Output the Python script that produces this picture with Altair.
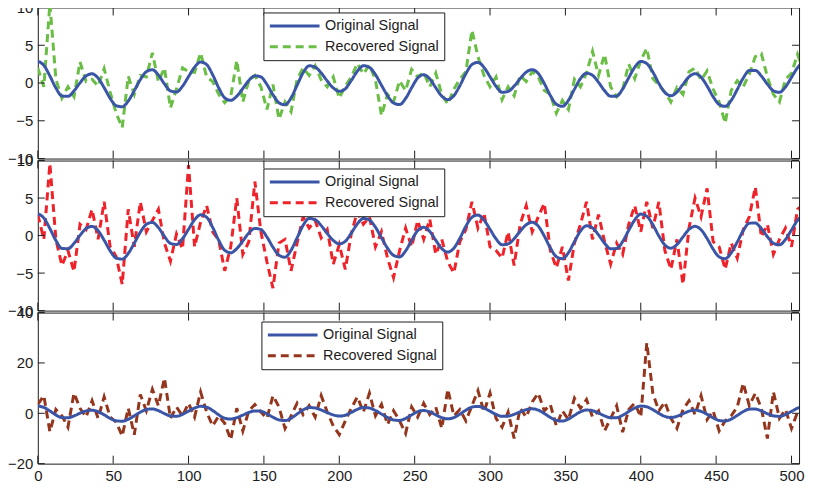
import altair as alt
import pandas as pd

# sample positions (every 4th sample, plus the right end)
T = list(range(0, 509, 4)) + [510]

ORIG = [2.9, 2.34, 0.94, -0.66, -1.71, -1.75, -1.04, 0.03, 0.94, 1.22,
        0.65, -0.61, -2.03, -3.0, -3.14, -2.38, -1.01, 0.45, 1.5, 1.75,
        1.06, -0.11, -1.04, -1.18, -0.42, 0.85, 2.1, 2.77, 2.44, 1.1,
        -0.63, -1.96, -2.29, -1.74, -0.72, 0.34, 0.95, 0.81, -0.19, -1.55,
        -2.62, -2.88, -1.96, -0.3, 1.36, 2.28, 2.11, 1.33, 0.28, -0.65,
        -1.1, -0.76, 0.35, 1.57, 2.29, 2.07, 1.11, -0.29, -1.68, -2.64,
        -2.85, -2.04, -0.63, 0.66, 1.1, 0.55, -0.62, -1.74, -2.2, -1.68,
        -0.35, 1.25, 2.45, 2.73, 2.06, 0.83, -0.44, -1.22, -1.11, -0.41,
        0.58, 1.44, 1.77, 1.26, -0.06, -1.64, -2.81, -3.08, -2.29, -0.81,
        0.6, 1.3, 1.02, 0.09, -1.02, -1.75, -1.73, -0.79, 0.7, 2.09,
        2.86, 2.57, 1.46, -0.05, -1.25, -1.68, -1.2, -0.17, 0.82, 1.23,
        0.78, -0.39, -1.8, -2.84, -3.08, -2.3, -0.86, 0.67, 1.65, 1.67,
        0.93, -0.15, -1.02, -1.23, -0.52, 0.75, 2.02, 2.73, 2.75]

GREEN = [2.0, -0.5, 10.5, 0.5, -2.0, -0.5, -1.8, 2.8, 0.2, 0.5,
         -0.4, 1.9, -1.2, -4.0, -5.9, 0.9, -1.5, 1.0, 0.8, 4.0,
         0.2, 2.0, -3.3, -0.8, 2.0, 1.5, 1.4, 4.0, 0.8, 0.2,
         -1.5, -2.6, -1.8, 3.0, -2.5, 0.3, 1.0, -0.5, -3.5, -0.2,
         -4.8, -2.5, -3.8, 0.5, 2.0, 1.0, 2.3, 0.4, -0.5, 0.8,
         -2.0, -0.4, 0.8, 2.6, 1.2, 2.4, 0.4, -4.3, -1.5, -2.5,
         0.3, -1.0, 1.8, 0.8, 1.4, -0.5, 1.3, -1.5, -2.8, -0.8,
         0.5, 1.5, 7.0, 3.5, 1.0, -0.5, 0.8, -2.2, -0.5, -1.7,
         1.0, 0.2, 1.5, 0.8, -1.0, -1.5, -4.0, -2.3, -3.5, 0.5,
         -0.5, 1.3, 4.2, 1.0, 3.8, -0.5, -1.8, -0.8, 2.5, 0.6,
         3.0, 4.6, 0.6, -0.3, -1.2, -2.5, -0.6, -1.5, 1.5, 2.0,
         0.4, 1.6, -0.8, -2.5, -5.3, -1.0, 0.3, -0.5, 1.2, 3.5,
         3.9, 0.8, -1.5, -2.5, 0.5, 1.3, 3.8, 1.6, 2.5]

RED = [2.8, -0.5, 9.6, -0.5, -4.0, -2.0, -4.8, 1.5, 0.8, 3.5,
       -0.5, 4.5, -1.5, -2.8, -6.5, 3.5, -1.5, 4.5, 0.5, 2.0,
       3.5, -1.0, -3.4, 0.2, -1.8, 9.4, -1.5, 1.8, 4.0, 0.5,
       -0.6, -4.7, -1.5, 5.0, -2.5, -0.8, 7.2, 0.5, -3.5, -7.0,
       -1.0, -0.5, -4.7, -1.0, 2.5, 1.0, 2.0, -0.3, 0.8, -3.8,
       -1.2, -4.5, 0.3, 3.2, 1.5, 2.5, -1.5, 0.5, -3.0, -5.6,
       -2.0, 1.0, -1.5, 2.0, -0.5, 2.2, -2.5, -0.5, -3.5, -5.0,
       -0.8, 0.8, 4.5, 1.0, 3.0, -1.5, -2.0, -3.0, 0.5, -4.0,
       1.5, 4.0, 0.5, 2.5, 4.3, -2.0, -4.3, -1.5, -6.0, -1.0,
       1.5, 4.5, -0.5, 2.8, -0.8, -3.8, -1.0, -2.5, 1.5, 4.0,
       0.5, 4.5, 1.0, 4.5, -2.0, -4.5, -0.5, -6.5, 1.0, 5.0,
       2.5, 6.3, -0.8, -1.5, -4.5, -1.0, -3.0, 0.8, 2.5, 6.5,
       -0.2, 1.5, -2.5, -0.5, 1.0, -1.5, 3.5, 4.2, 2.0]

BROWN = [3.5, 7.0, -7.3, 1.5, -1.0, -5.5, 8.0, 2.0, -1.5, 5.0,
         -2.0, 6.5, -1.5, -3.5, -9.0, 2.0, -8.5, 7.5, 1.0, 9.5,
         3.0, 14.0, -2.0, 2.5, -1.0, 4.0, -1.5, 8.5, 0.5, -5.0,
         -1.0, -4.0, -10.5, 2.0, -7.0, 1.0, 3.5, 0.5, -2.0, 7.0,
         2.5, -6.0, -1.0, 4.0, -0.5, 3.0, -1.5, 7.0, 0.5, -5.0,
         -8.5, -3.0, 2.0, 6.5, 0.5, 8.0, -1.0, 3.5, -4.5, 1.0,
         -3.0, -8.0, 2.5, -1.5, 4.0, -0.5, 2.5, -6.0, 9.6, -1.0,
         1.5, -3.0, 3.0, 9.0, 0.5, 8.0, -2.0, -5.5, 0.5, -10.0,
         2.0, -1.5, 4.5, 8.0, 1.0, 3.5, -5.0, 1.0, -2.5, 6.0,
         2.0, 5.5, -1.5, 1.0, -7.0, -2.0, 3.0, -7.5, 1.5, 4.0,
         -1.5, 28.0, 8.0, 1.0, 4.5, -2.0, -6.0, 1.5, 5.0, -0.5,
         7.0, -2.5, 1.0, -7.0, -3.0, -1.0, 2.5, 12.0, 3.0, 8.0,
         2.0, -10.0, 8.5, -2.0, 1.5, -6.0, 0.5, 3.0, 1.0]

X_TICKS = [0, 50, 100, 150, 200, 250, 300, 350, 400, 450, 500]
Y_TICKS_SMALL = [-10, -5, 0, 5, 10]
Y_TICKS_BIG = [-20, 0, 20, 40]
SERIES = ["Original Signal", "Recovered Signal"]

BLUE = "#3a55a5"
GREEN_C = "#6abd45"
RED_C = "#ee2229"
BROWN_C = "#94361d"
INK = "#1c1c1c"
FONT = "Liberation Sans"
W = 766


def panel(rec, rec_color, ydom, yticks, h, lx, ly, show_x):
    df_o = pd.DataFrame({"t": T, "v": ORIG, "s": SERIES[0]})
    df_r = pd.DataFrame({"t": T, "v": rec, "s": SERIES[1]})
    xs = alt.Scale(domain=[0, 505], nice=False, zero=False)
    ys = alt.Scale(domain=ydom, nice=False, zero=False)
    leg = alt.Legend(orient="none", legendX=lx, legendY=ly, title=None,
                     symbolType="stroke", symbolSize=2500, symbolStrokeWidth=3,
                     clipHeight=17, rowPadding=4, labelOffset=4,
                     labelFont=FONT, labelFontSize=14.5, labelColor=INK,
                     fillColor="white", strokeColor=INK, padding=5,
                     cornerRadius=0)
    color = alt.Color("s:N", scale=alt.Scale(domain=SERIES, range=[BLUE, rec_color]), legend=leg)
    dash = alt.StrokeDash("s:N", scale=alt.Scale(domain=SERIES, range=[[1, 0], [8, 5]]), legend=leg)
    if show_x:
        xaxis = alt.Axis(values=X_TICKS, ticks=False, domain=False, grid=False,
                         labelFont=FONT, labelFontSize=15, labelPadding=5,
                         labelFlush=False, labelColor=INK, title=None)
    else:
        xaxis = None
    yaxis = alt.Axis(values=yticks, ticks=False, domain=False, grid=False,
                     labelFont=FONT, labelFontSize=15, labelPadding=5,
                     labelFlush=False, labelColor=INK, title=None)
    X = lambda f: alt.X(f, scale=xs, axis=xaxis)
    Y = lambda f: alt.Y(f, scale=ys, axis=yaxis)
    rec_line = alt.Chart(df_r).mark_line(clip=True, strokeWidth=3).encode(
        x=X("t:Q"), y=Y("v:Q"), color=color, strokeDash=dash)
    orig_line = alt.Chart(df_o).mark_line(clip=True, strokeWidth=3, interpolate="monotone").encode(
        x=X("t:Q"), y=Y("v:Q"), color=color, strokeDash=dash)
    xt = pd.DataFrame({"tx": X_TICKS})
    yt = pd.DataFrame({"ty": yticks})
    top_t = alt.Chart(xt).mark_rule(color=INK, strokeWidth=1).encode(
        x=X("tx:Q"), y=alt.value(0), y2=alt.value(8))
    bot_t = alt.Chart(xt).mark_rule(color=INK, strokeWidth=1).encode(
        x=X("tx:Q"), y=alt.value(h), y2=alt.value(h - 8))
    left_t = alt.Chart(yt).mark_rule(color=INK, strokeWidth=1).encode(
        y=Y("ty:Q"), x=alt.value(0), x2=alt.value(7))
    right_t = alt.Chart(yt).mark_rule(color=INK, strokeWidth=1).encode(
        y=Y("ty:Q"), x=alt.value(W), x2=alt.value(W - 7))
    return alt.layer(rec_line, orig_line, top_t, bot_t, left_t, right_t).properties(width=W, height=h)


p1 = panel(GREEN, GREEN_C, [-10, 10], Y_TICKS_SMALL, 152, 227, 5, False)
p2 = panel(RED, RED_C, [-10, 10], Y_TICKS_SMALL, 151, 227, 8, False)
p3 = panel(BROWN, BROWN_C, [-20, 40], Y_TICKS_BIG, 152, 225, 9, True)

chart = alt.vconcat(p1, p2, p3, spacing=2, bounds="flush").resolve_scale(
    x="independent", y="independent", color="independent", strokeDash="independent"
).properties(
    padding={"top": -10, "left": -1, "right": 0, "bottom": 0},
    background="white",
).configure_view(stroke=INK, strokeWidth=1)

chart.save("out.html", embed_options={"renderer": "svg", "actions": False})
